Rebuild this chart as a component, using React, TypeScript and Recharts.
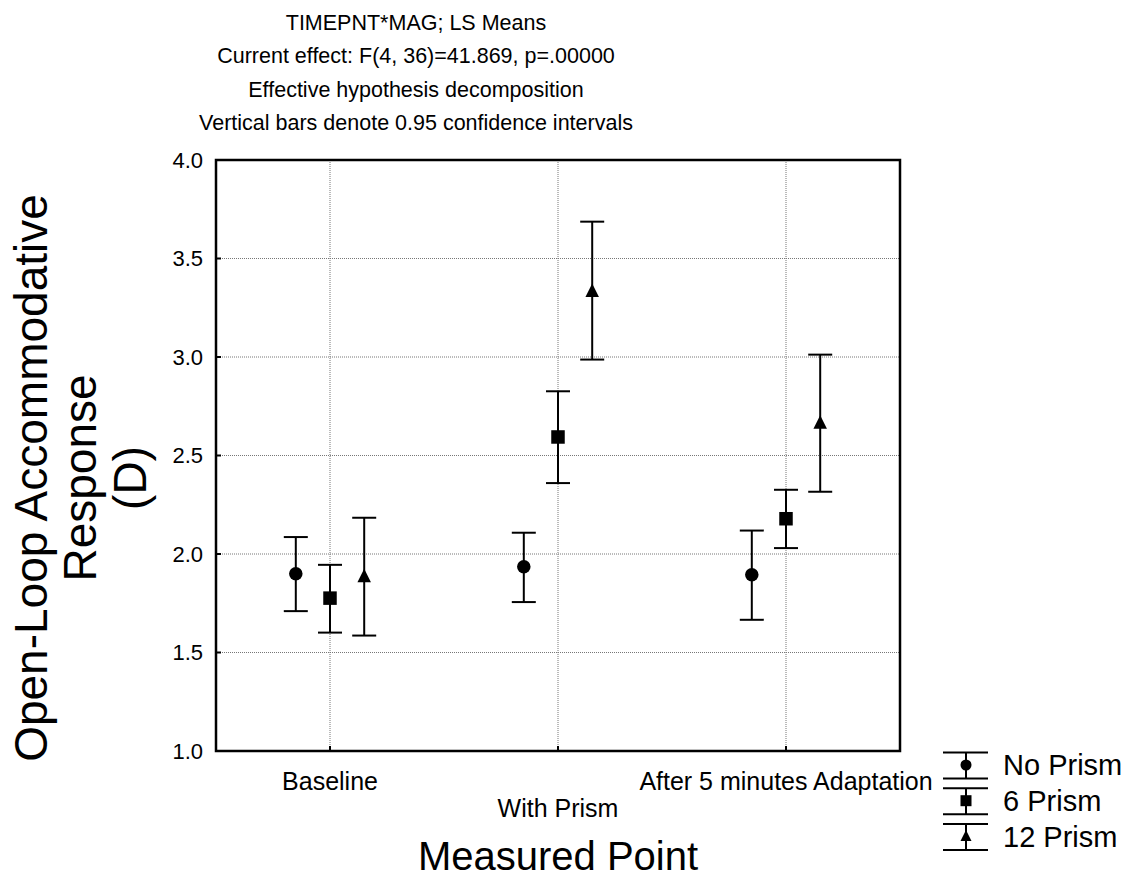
import React from 'react';
import {
  ComposedChart,
  Scatter,
  XAxis,
  YAxis,
  CartesianGrid,
  ErrorBar,
  ReferenceArea,
  Legend,
} from 'recharts';

// ---------- data ----------
const categories = ['Baseline', 'With Prism', 'After 5 minutes Adaptation'];
const categoryPositions = [1, 2, 3];

const noPrismMean = [1.9, 1.935, 1.895];
const noPrismLow = [1.71, 1.756, 1.666];
const noPrismHigh = [2.086, 2.108, 2.119];

const sixPrismMean = [1.776, 2.594, 2.179];
const sixPrismLow = [1.601, 2.36, 2.03];
const sixPrismHigh = [1.945, 2.826, 2.326];

const twelvePrismMean = [1.886, 3.334, 2.665];
const twelvePrismLow = [1.586, 2.987, 2.316];
const twelvePrismHigh = [2.184, 3.687, 3.012];

const yTicks = [1.0, 1.5, 2.0, 2.5, 3.0, 3.5, 4.0];

const titleLines = [
  'TIMEPNT*MAG; LS Means',
  'Current effect: F(4, 36)=41.869, p=.00000',
  'Effective hypothesis decomposition',
  'Vertical bars denote 0.95 confidence intervals',
];
const yTitleLines = ['Open-Loop Accommodative', 'Response', '(D)'];
const xTitle = 'Measured Point';

const FONT = '"Liberation Sans", Arial, Helvetica, sans-serif';

// dodge offset between series within a category
const DODGE = 0.15;

const build = (mean: number[], low: number[], high: number[], off: number) =>
  mean.map((m, i) => ({
    x: categoryPositions[i] + off,
    y: m,
    err: [m - low[i], high[i] - m],
  }));

const series = [
  { name: 'No Prism', shape: 'circle', data: build(noPrismMean, noPrismLow, noPrismHigh, -DODGE) },
  { name: '6 Prism', shape: 'square', data: build(sixPrismMean, sixPrismLow, sixPrismHigh, 0) },
  { name: '12 Prism', shape: 'triangle', data: build(twelvePrismMean, twelvePrismLow, twelvePrismHigh, DODGE) },
];

const Marker = ({ kind, cx, cy, s }: { kind: string; cx: number; cy: number; s: number }) => {
  if (kind === 'circle') return <circle cx={cx} cy={cy} r={s / 2} fill="#000" />;
  if (kind === 'square') return <rect x={cx - s / 2} y={cy - s / 2} width={s} height={s} fill="#000" />;
  const h = s;
  return (
    <polygon
      points={`${cx},${cy - h / 2 - 1} ${cx - s / 2},${cy + h / 2 - 1} ${cx + s / 2},${cy + h / 2 - 1}`}
      fill="#000"
    />
  );
};

const makeShape = (kind: string) => (props: any) => (
  <Marker kind={kind} cx={props.cx} cy={props.cy} s={13.5} />
);

const YTick = (props: any) => {
  const { x, y, payload } = props;
  return (
    <text x={x} y={y} dy="0.36em" textAnchor="end" fontFamily={FONT} fontSize={22} fill="#000">
      {Number(payload.value).toFixed(1)}
    </text>
  );
};

const XTick = (props: any) => {
  const { x, y, payload } = props;
  const idx = categoryPositions.indexOf(payload.value);
  const label = categories[idx] ?? '';
  const extra = idx % 2 === 1 ? 27 : 0;
  return (
    <text x={x} y={y + 30 + extra} dy="0.36em" textAnchor="middle" fontFamily={FONT} fontSize={25} fill="#000">
      {label}
    </text>
  );
};

const NoTick = () => <g />;
const NoShape = () => <g />;

const LegendContent = () => (
  <svg width={204} height={120} style={{ display: 'block', overflow: 'visible' }}>
    {series.map((s, i) => {
      const cy = 20 + 35.7 * i;
      return (
        <g key={s.name}>
          <line x1={13} x2={58} y1={cy - 12.5} y2={cy - 12.5} stroke="#000" strokeWidth={2} />
          <line x1={13} x2={58} y1={cy + 13.5} y2={cy + 13.5} stroke="#000" strokeWidth={2} />
          <line x1={36} x2={36} y1={cy - 12.5} y2={cy + 13.5} stroke="#000" strokeWidth={2} />
          <Marker kind={s.shape} cx={36} cy={cy} s={11} />
          <text x={73} y={cy} dy="0.36em" fontFamily={FONT} fontSize={29} fill="#000">
            {s.name}
          </text>
        </g>
      );
    })}
  </svg>
);

const YTitleLabel = () => (
  <g>
    {titleLines.map((t, i) => (
      <text
        key={'h' + i}
        x={416}
        y={22 + 33.5 * i}
        dy="0.36em"
        textAnchor="middle"
        fontFamily={FONT}
        fontSize={21.5}
        fill="#000"
      >
        {t}
      </text>
    ))}
    {yTitleLines.map((t, i) => (
      <text
        key={'y' + i}
        transform={`translate(${30 + 49.5 * i}, 478) rotate(-90)`}
        dy="0.36em"
        textAnchor="middle"
        fontFamily={FONT}
        fontSize={46}
        fill="#000"
      >
        {t}
      </text>
    ))}
  </g>
);

const XTitleLabel = (props: any) => {
  const vb = props.viewBox || {};
  const cx = (vb.x ?? 216) + (vb.width ?? 684) / 2;
  return (
    <text x={cx} y={870} textAnchor="middle" fontFamily={FONT} fontSize={40} fill="#000">
      {xTitle}
    </text>
  );
};

export default function App() {
  return (
    <div style={{ position: 'absolute', left: 0, top: 0, width: 1134, height: 879, background: '#fff' }}>
      <ComposedChart
        width={1134}
        height={879}
        margin={{ top: 160, right: 234, bottom: 88, left: 166 }}
      >
        <CartesianGrid
          xAxisId="main"
          yAxisId="main"
          stroke="#777"
          strokeDasharray="1 1"
          strokeWidth={1}
        />
        <XAxis
          xAxisId="top"
          orientation="top"
          type="number"
          dataKey="x"
          domain={[0.5, 3.5]}
          ticks={categoryPositions}
          height={0}
          tickSize={-5}
          tick={NoTick}
          axisLine={false}
          tickLine={{ stroke: '#000', strokeWidth: 2 }}
        />
        <XAxis
          xAxisId="main"
          type="number"
          dataKey="x"
          domain={[0.5, 3.5]}
          ticks={categoryPositions}
          interval={0}
          height={40}
          tickSize={-5}
          tickMargin={5}
          tick={XTick}
          axisLine={false}
          tickLine={{ stroke: '#000', strokeWidth: 2 }}
          label={<XTitleLabel />}
        />
        <YAxis
          yAxisId="right"
          orientation="right"
          type="number"
          domain={[1, 4]}
          ticks={yTicks}
          width={0}
          tickSize={-5}
          tick={NoTick}
          axisLine={false}
          tickLine={{ stroke: '#000', strokeWidth: 2 }}
        />
        <YAxis
          yAxisId="main"
          type="number"
          domain={[1, 4]}
          ticks={yTicks}
          interval={0}
          width={50}
          tickSize={-5}
          tickMargin={18}
          tick={YTick}
          axisLine={false}
          tickLine={{ stroke: '#000', strokeWidth: 2 }}
          label={<YTitleLabel />}
        />
        <ReferenceArea
          xAxisId="main"
          yAxisId="main"
          x1={0.5}
          x2={3.5}
          y1={1}
          y2={4}
          fill="none"
          fillOpacity={0}
          stroke="#000"
          strokeWidth={2.5}
          ifOverflow="visible"
        />
        {/* invisible series that binds the top/right frame axes */}
        <Scatter
          name="frame"
          data={series[0].data}
          xAxisId="top"
          yAxisId="right"
          dataKey="y"
          shape={NoShape}
          legendType="none"
          isAnimationActive={false}
        />
        {series.map((s) => (
          <Scatter
            key={s.name}
            name={s.name}
            data={s.data}
            xAxisId="main"
            yAxisId="main"
            dataKey="y"
            shape={makeShape(s.shape)}
            isAnimationActive={false}
          >
            <ErrorBar
              dataKey="err"
              direction="y"
              width={12}
              stroke="#000"
              strokeWidth={2}
              isAnimationActive={false}
            />
          </Scatter>
        ))}
        <Legend
          content={<LegendContent />}
          width={0}
          height={0}
          wrapperStyle={{ position: 'absolute', left: 930, top: 745, width: 0, height: 0, overflow: 'visible' }}
        />
      </ComposedChart>
    </div>
  );
}
